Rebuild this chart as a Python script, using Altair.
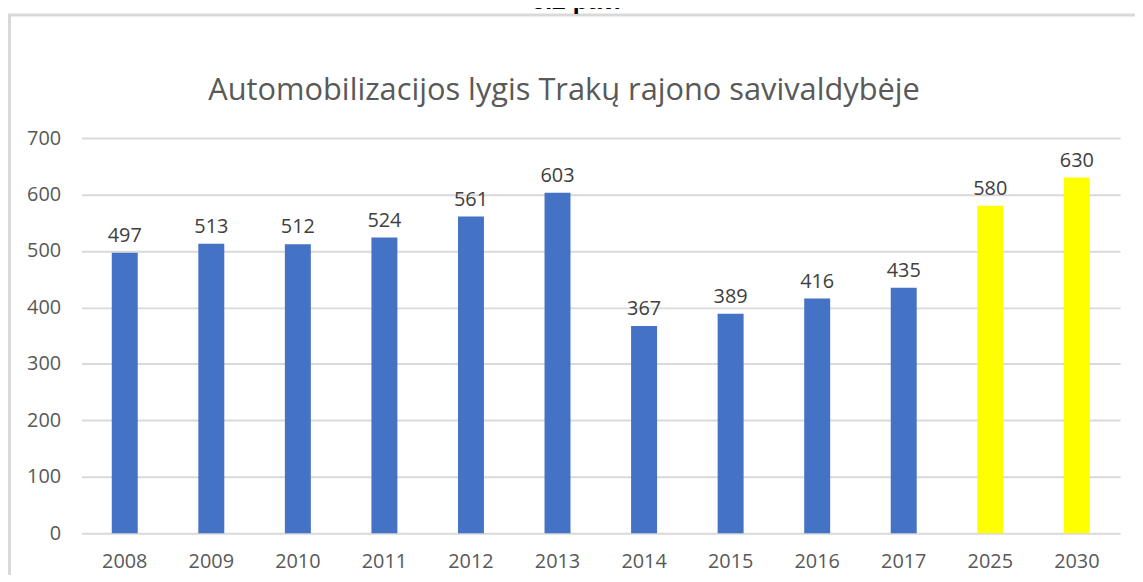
import altair as alt
import pandas as pd

years = ["2008", "2009", "2010", "2011", "2012", "2013", "2014", "2015", "2016", "2017", "2025", "2030"]
values = [497, 513, 512, 524, 561, 603, 367, 389, 416, 435, 580, 630]
kinds = ["faktas"] * 10 + ["prognozė"] * 2
title_text = "Automobilizacijos lygis Trakų rajono savivaldybėje"
fig_label = "6.2 pav."

df = pd.DataFrame({"metai": years, "reiksme": values, "tipas": kinds})

FONT = "Open Sans"
W, H = 1046, 398

x_enc = alt.X("metai:N", sort=years, title=None,
              scale=alt.Scale(paddingInner=0.70, paddingOuter=0.35),
              axis=alt.Axis(labelAngle=0, ticks=False, domain=False, labelPadding=18,
                            labelFont=FONT, labelFontSize=20, labelColor="#595959"))
y_enc = alt.Y("reiksme:Q", title=None,
              scale=alt.Scale(domain=[0, 700], nice=False),
              axis=alt.Axis(values=[0, 100, 200, 300, 400, 500, 600, 700], ticks=False, domain=False,
                            labelPadding=21, labelFont=FONT, labelFontSize=20, labelColor="#595959",
                            gridColor="#d9d9d9", gridWidth=2))

base = alt.Chart(df)

bars = base.mark_bar().encode(
    x=x_enc, y=y_enc,
    color=alt.Color("tipas:N", scale=alt.Scale(domain=["faktas", "prognozė"], range=["#4472C4", "#FFFF00"]), legend=None),
)

labels = base.mark_text(font=FONT, fontSize=20, color="#404040", baseline="alphabetic", dy=-11).encode(
    x=alt.X("metai:N", sort=years), y="reiksme:Q", text="reiksme:Q"
)

title_df = pd.DataFrame({"t": [title_text]})
title = alt.Chart(title_df).mark_text(font=FONT, fontSize=31, color="#595959", baseline="alphabetic", align="center").encode(
    x=alt.value(486), y=alt.value(-38), text="t:N"
)

fig_df = pd.DataFrame({"t": [fig_label]})
fig = alt.Chart(fig_df).mark_text(font="Liberation Sans", fontSize=25, fontWeight="bold", color="#000000",
                                  baseline="alphabetic", align="center").encode(
    x=alt.value(498), y=alt.value(-130), text="t:N"
)

border_top = alt.Chart(fig_df).mark_rule(color="#d9d9d9", strokeWidth=3).encode(
    x=alt.value(-73), x2=alt.value(W + 20), y=alt.value(-124)
)
border_left = alt.Chart(fig_df).mark_rule(color="#d9d9d9", strokeWidth=3).encode(
    x=alt.value(-72.5), y=alt.value(-125.5), y2=alt.value(H + 60)
)

chart = alt.layer(border_top, border_left, fig, title, bars, labels).properties(
    width=W, height=H,
    autosize=alt.AutoSizeParams(type="none"),
    padding={"left": 74, "top": 129, "right": 15, "bottom": 40},
    background="white",
).configure_view(stroke=None)

chart.save("out.html", embed_options={"renderer": "svg", "actions": False})
